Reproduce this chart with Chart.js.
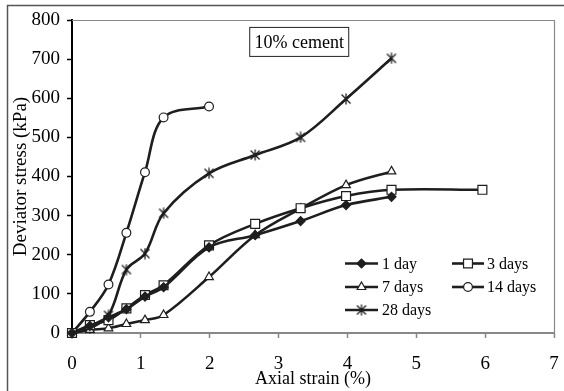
<!DOCTYPE html>
<html><head><meta charset="utf-8">
<script src="https://cdn.jsdelivr.net/npm/chart.js@4/dist/chart.umd.min.js"></script>
<style>html,body{margin:0;padding:0;background:#fff;} #wrap{width:564px;height:391px;position:relative;}</style>
</head><body><div id="wrap"><canvas id="c" width="564" height="391"></canvas></div>
<script>
// ---- data ----
const strain = [0, 0.26, 0.53, 0.79, 1.06, 1.33, 1.99, 2.66, 3.32, 3.98, 4.64, 5.96];
const seriesLabels = ['1 day', '3 days', '7 days', '14 days', '28 days'];
const day1  = [0, 18, 40, 61, 93, 117, 219, 250, 286, 327, 348];
const day3  = [0, 20, 33, 63, 97, 122, 224, 279, 319, 350, 366, 366];
const day7  = [0, 8, 12, 23, 33, 46, 143, 250, 318, 378, 413];
const day14 = [0, 54, 124, 256, 411, 551, 579];
const day28 = [0, 12, 45, 162, 203, 306, 408, 455, 500, 598, 702];
const xTicks = [0, 1, 2, 3, 4, 5, 6, 7];
const yTicks = [0, 100, 200, 300, 400, 500, 600, 700, 800];
const annotationText = '10% cement';
const xTitle = 'Axial strain (%)';
const yTitle = 'Deviator stress (kPa)';

const FONT = "'Liberation Serif', 'Times New Roman', serif";
const INK = '#1e1e1e';

// asterisk marker (X with vertical bar)
function makeAsterisk(){
  const c = document.createElement('canvas'); c.width = 12; c.height = 12;
  const g = c.getContext('2d'); g.strokeStyle = INK; g.lineWidth = 1.3;
  g.beginPath();
  g.moveTo(1.5,1.5); g.lineTo(10.5,10.5);
  g.moveTo(10.5,1.5); g.lineTo(1.5,10.5);
  g.moveTo(6,0.5); g.lineTo(6,11.5);
  g.stroke();
  return c;
}
const asterisk = makeAsterisk();

function pts(ys){ return ys.map((v,i)=>({x: strain[i], y: v})); }
const styles = [
  {pointStyle:'rectRot', radius:4.5, fill:INK},
  {pointStyle:'rect', radius:6.3, fill:'#fff'},
  {pointStyle:'triangle', radius:5, fill:'#fff'},
  {pointStyle:'circle', radius:4.4, fill:'#fff'},
  {pointStyle:asterisk, radius:6, fill:'#fff'}
];
const allSeries = [day1, day3, day7, day14, day28];
const datasets = allSeries.map((s,i)=>({
  label: seriesLabels[i],
  data: pts(s),
  borderColor: INK,
  borderWidth: 2.6,
  tension: 0.35,
  pointStyle: styles[i].pointStyle,
  pointRadius: styles[i].radius,
  pointBackgroundColor: styles[i].fill,
  pointBorderColor: INK,
  pointBorderWidth: 1.2,
  clip: false,
  fill: false,
  order: i
}));

const decor = {
  id: 'decor',
  afterDraw(chart){
    const ctx = chart.ctx, a = chart.chartArea;
    ctx.save();
    // outer frame (left and top)
    ctx.strokeStyle = '#555'; ctx.lineWidth = 1.5;
    ctx.beginPath(); ctx.moveTo(7.5, 391); ctx.lineTo(7.5, 5.5); ctx.lineTo(564, 5.5); ctx.stroke();
    // plot border top & right
    ctx.strokeStyle = '#888'; ctx.lineWidth = 1.2;
    ctx.beginPath(); ctx.moveTo(a.left, a.top+0.5); ctx.lineTo(a.right+0.5, a.top+0.5); ctx.lineTo(a.right+0.5, a.bottom); ctx.stroke();
    // annotation box
    const xs = chart.scales.x, ys = chart.scales.y;
    const cx = xs.getPixelForValue(3.3), cy = ys.getPixelForValue(744);
    ctx.font = '18px ' + FONT;
    ctx.textAlign = 'center'; ctx.textBaseline = 'middle';
    ctx.fillStyle = '#fff';
    ctx.fillRect(cx-49.5, cy-14.5, 99, 29);
    ctx.strokeStyle = '#222'; ctx.lineWidth = 1;
    ctx.strokeRect(cx-49.5, cy-14.5, 99, 29);
    ctx.fillStyle = '#000';
    ctx.fillText(annotationText, cx, cy+1);
    // legend
    const cols = [[345, 378, 382], [452, 484, 487]];
    const rows = [263.5, 287, 310];
    const order = [[0,0,0],[1,1,0],[2,0,1],[3,1,1],[4,0,2]];
    ctx.font = '16px ' + FONT; ctx.textAlign = 'left';
    order.forEach(([di, c, r])=>{
      const d = chart.data.datasets[di];
      const [x0, x1, tx] = cols[c]; const y = rows[r];
      ctx.strokeStyle = INK; ctx.lineWidth = 2.6;
      ctx.beginPath(); ctx.moveTo(x0, y); ctx.lineTo(x1, y); ctx.stroke();
      ctx.fillStyle = d.pointBackgroundColor; ctx.strokeStyle = INK; ctx.lineWidth = 1.2;
      Chart.helpers.drawPoint(ctx, {pointStyle: d.pointStyle, radius: d.pointRadius, rotation: 0, borderWidth: 1.2}, (x0+x1)/2, y);
      ctx.fillStyle = '#000'; ctx.textBaseline = 'middle';
      ctx.fillText(d.label, tx, y+1);
    });
    ctx.restore();
  }
};

new Chart(document.getElementById('c'), {
  type: 'line',
  data: { datasets },
  options: {
    responsive: false,
    animation: false,
    devicePixelRatio: 1,
    layout: { padding: { top: 20, right: 10, left: 0, bottom: 0 } },
    plugins: { legend: { display: false }, tooltip: { enabled: false } },
    scales: {
      x: {
        type: 'linear', min: 0, max: 7,
        afterBuildTicks: s => { s.ticks = xTicks.map(v=>({value:v})); },
        afterFit: s => { s.height = 58; s.paddingLeft = 0; s.paddingRight = 0; },
        ticks: { font: { family: FONT, size: 19 }, color: '#000', padding: 15 },
        grid: { drawOnChartArea: false, drawTicks: true, tickLength: 5, color: '#888', tickWidth: 1.5 },
        border: { display: true, color: '#888', width: 2 },
        title: { display: true, text: xTitle, font: { family: FONT, size: 18 }, color: '#000', padding: { top: 0, bottom: 1 } }
      },
      y: {
        type: 'linear', min: 0, max: 800,
        afterBuildTicks: s => { s.ticks = yTicks.map(v=>({value:v})); },
        afterFit: s => { s.width = 72; s.paddingTop = 0; s.paddingBottom = 0; },
        ticks: { font: { family: FONT, size: 19 }, color: '#000', padding: 7 },
        grid: { drawOnChartArea: false, drawTicks: true, tickLength: 5, color: '#000', tickWidth: 1.5 },
        border: { display: true, color: '#000', width: 2 },
        title: { display: true, text: yTitle, font: { family: FONT, size: 19 }, color: '#000', padding: { top: 10, bottom: 0 } }
      }
    }
  },
  plugins: [decor]
});
</script></body></html>
